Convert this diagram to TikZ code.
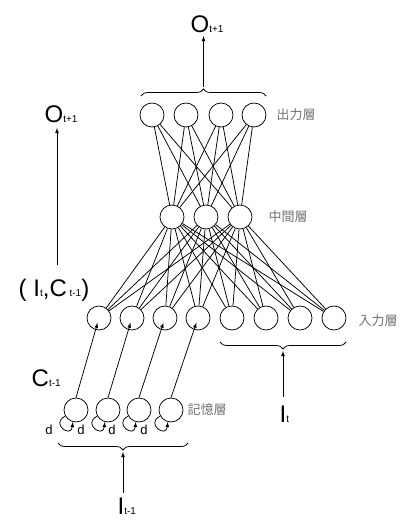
\documentclass[tikz,border=0pt]{standalone}
\usepackage{fontspec}
\setmainfont{Liberation Sans}
\newfontfamily\jpfont{Noto Sans CJK JP}
\usetikzlibrary{decorations.pathreplacing}
\newcommand{\biglbl}[2]{{\fontsize{24}{24}\selectfont #1}{\fontsize{10}{10}\selectfont #2}}
\begin{document}
\begin{tikzpicture}[x=1pt,y=-1pt,line width=0.75pt,
        neuron/.style={draw,circle,minimum size=24pt,inner sep=0pt},
        layername/.style={anchor=west,text=black!55,font=\jpfont\fontsize{13}{13}\selectfont},
        brace/.style={decorate,decoration={brace,amplitude=7pt}}]
        \useasboundingbox (0,0) rectangle (403,527);
        % layers
        \foreach \x [count=\i] in {152,186,221,254} \node[neuron] (o\i) at (\x,115) {};
        \foreach \x [count=\i] in {172,206,240} \node[neuron] (h\i) at (\x,217) {};
        \foreach \x [count=\i] in {99,132,165,198,232,266,300,334} \node[neuron] (n\i) at (\x,318) {};
        \foreach \x [count=\i] in {76,108,139,171} \node[neuron] (m\i) at (\x,410) {};
        \node[layername] at (273,115) {出力層};
        \node[layername] at (265,217) {中間層};
        \node[layername] at (355,321) {入力層};
        \node[layername] at (184,410) {記憶層};
        % weights
        \foreach \i in {1,...,4} \foreach \j in {1,...,3} \draw (o\i) -- (h\j);
        \foreach \i in {1,...,3} \foreach \j in {1,...,8} \draw (h\i) -- (n\j);
        \foreach \i in {1,...,4} {
            \draw[-latex,shorten >=5pt] (m\i.north) -- (n\i.center);
            \draw[-latex] (m\i.210) .. controls +(155:17) and +(95:17) .. (m\i.255);
            \node at ([shift={(-27,20)}]m\i.center) {\fontsize{13}{13}\selectfont d};
        }
        % output side
        \draw[brace] (141,96) -- (266,96) coordinate[midway,yshift=9pt] (otip);
        \node[anchor=south west] (oout) at (187,36) {\biglbl{O}{t+1}};
        \draw[thick,-latex] (otip) -- (otip |- oout.south);
        % context output
        \node[anchor=south west] (ctxout) at (41,126) {\biglbl{O}{t+1}};
        \node (ctxin) at (54,290) {\biglbl{( }{}\biglbl{I}{t}\biglbl{,C}{ t-1}\biglbl{)}{}};
        \draw[thick,-latex] (57,265) -- (57,128);
        \node[anchor=west] (ctx) at (28,378) {\biglbl{C}{t-1}};
        % current input
        \draw[brace] (346,342) -- (220,342) coordinate[midway,yshift=-9pt] (itip);
        \node[anchor=north west] (iin) at (276,402) {\biglbl{I}{t}};
        \draw[thick,-latex] (283,397) -- (itip);
        % previous input
        \draw[brace] (188,443) -- (58,443) coordinate[midway,yshift=-9pt] (ptip);
        \node[anchor=north west] (pin) at (114,494) {\biglbl{I}{t-1}};
        \draw[thick,-latex] (ptip |- 0,493) -- (ptip);
\end{tikzpicture}
\end{document}
